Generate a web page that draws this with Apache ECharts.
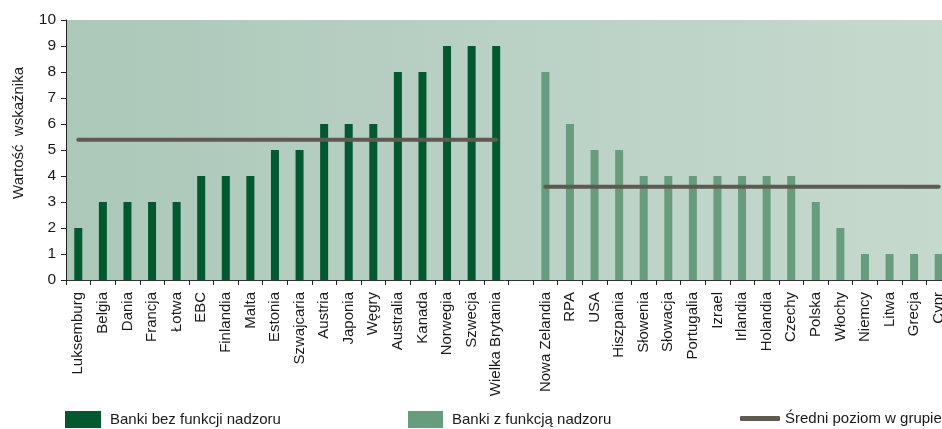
<!DOCTYPE html>
<html><head><meta charset="utf-8">
<script src="https://cdn.jsdelivr.net/npm/echarts@6/dist/echarts.min.js"></script>
<style>html,body{margin:0;padding:0;background:#fff}#c{width:942px;height:429px}</style>
</head><body><div id="c"></div>
<script>
const groupA = ['Luksemburg','Belgia','Dania','Francja','Łotwa','EBC','Finlandia','Malta','Estonia','Szwajcaria','Austria','Japonia','Węgry','Australia','Kanada','Norwegia','Szwecja','Wielka Brytania'];
const valuesA = [2,3,3,3,3,4,4,4,5,5,6,6,6,8,8,9,9,9];
const groupB = ['Nowa Zelandia','RPA','USA','Hiszpania','Słowenia','Słowacja','Portugalia','Izrael','Irlandia','Holandia','Czechy','Polska','Włochy','Niemcy','Litwa','Grecja','Cypr'];
const valuesB = [8,6,5,5,4,4,4,4,4,4,4,3,2,1,1,1,1];
const avgA = 5.39;
const avgB = 3.59;
const yTicks = [0,1,2,3,4,5,6,7,8,9,10];
const nameA = 'Banki bez funkcji nadzoru';
const nameB = 'Banki z funkcją nadzoru';
const nameAvg = 'Średni poziom w grupie';
const yName = 'Wartość  wskaźnika';

const categories = groupA.concat([''], groupB);
const nA = groupA.length, nB = groupB.length, N = categories.length;
const pad = k => Array(k).fill('-');
const barA = valuesA.concat(pad(1 + nB));
const barB = pad(nA + 1).concat(valuesB);
const lineA = categories.map((c, i) => (i === 0 || i === nA - 1) ? avgA : '-');
const lineB = categories.map((c, i) => (i === nA + 1 || i === N - 1) ? avgB : '-');

const FONT = '"Liberation Sans", Arial, sans-serif';
const TXT = '#1a1a1a';
const DARK = '#02592f';
const LIGHT = '#679d7d';
const AVG = '#5f5a4f';

const chart = echarts.init(document.getElementById('c'), null, {renderer: 'canvas'});
chart.setOption({
  animation: false,
  textStyle: {fontFamily: FONT},
  grid: {
    left: 66, top: 20, height: 260, width: 885,
    outerBoundsMode: 'none', containLabel: false,
    show: true, borderWidth: 0,
    backgroundColor: new echarts.graphic.LinearGradient(0, 0, 1, 0, [
      {offset: 0, color: '#abc8b8'},
      {offset: 0.5, color: '#bad1c5'},
      {offset: 1, color: '#c6d9cd'}
    ])
  },
  legend: [
    {data: [nameA], left: 65, top: 411, padding: 0, itemWidth: 36, itemHeight: 17, icon: 'rect',
     textStyle: {fontFamily: FONT, fontSize: 15, color: TXT, padding: [0, 0, 0, 4]}},
    {data: [nameB], left: 408, top: 411, padding: 0, itemWidth: 35, itemHeight: 17, icon: 'rect',
     textStyle: {fontFamily: FONT, fontSize: 15, color: TXT, padding: [0, 0, 0, 4]}},
    {data: [nameAvg], left: 740, top: 411, padding: 0, itemWidth: 40, itemHeight: 5, icon: 'roundRect',
     itemStyle: {color: AVG},
     textStyle: {fontFamily: FONT, fontSize: 15, color: TXT}}
  ],
  graphic: [{
    type: 'text', left: 11, top: 67, rotation: Math.PI / 2,
    style: {text: yName, font: '15px ' + FONT, fill: TXT}
  }],
  xAxis: {
    type: 'category', data: categories,
    axisLine: {lineStyle: {color: '#333', width: 1}},
    axisTick: {show: true, interval: 0, length: 5, lineStyle: {color: '#222'}},
    axisLabel: {interval: 0, rotate: 90, margin: 12, fontSize: 15, color: TXT, fontFamily: FONT}
  },
  yAxis: {
    type: 'value', min: yTicks[0], max: yTicks[yTicks.length - 1], interval: 1,
    axisLine: {show: true, lineStyle: {color: '#222'}},
    axisTick: {show: true, length: 5, lineStyle: {color: '#222'}},
    axisLabel: {margin: 10, fontSize: 15.5, color: TXT, fontFamily: FONT},
    splitLine: {show: false}
  },
  series: [
    {name: nameA, type: 'bar', data: barA, barWidth: 8, barGap: '-100%', itemStyle: {color: DARK}},
    {name: nameB, type: 'bar', data: barB, barWidth: 8, barGap: '-100%', itemStyle: {color: LIGHT}},
    {name: nameAvg, type: 'line', data: lineA, connectNulls: true, symbol: 'none', z: 5,
     lineStyle: {color: AVG, width: 4, cap: 'round'}, itemStyle: {color: AVG}},
    {name: nameAvg, type: 'line', data: lineB, connectNulls: true, symbol: 'none', z: 5,
     lineStyle: {color: AVG, width: 4, cap: 'round'}, itemStyle: {color: AVG}}
  ]
});
</script></body></html>
